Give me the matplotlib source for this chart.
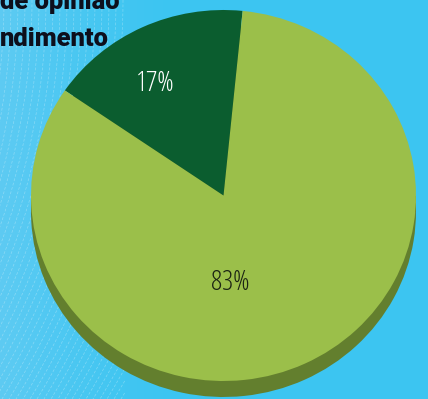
import numpy as np
import matplotlib.pyplot as plt
from matplotlib import font_manager

# dados do gráfico
categorias = ['Insatisfeito', 'Satisfeito']
valores = [17, 83]
cores = ['#0b5d2f', '#9bbf4a']
cores_lado = ['#073d1f', '#637f2e']
cor_texto = ['#ffffff', '#1c2414']
titulo = ['de opinião', 'ndimento']


def achar_fonte(preferidas):
    # procura uma família estreita instalada
    for nome in preferidas:
        for f in font_manager.fontManager.ttflist:
            if f.name == nome and f.stretch in ('condensed', 'semi-condensed', 'extra-condensed', 75, 87.5):
                return nome, 'condensed'
    return None, 'normal'


fonte, est = achar_fonte(['Roboto', 'Open Sans', 'Noto Sans', 'DejaVu Sans'])
if fonte is None:
    fonte = 'Roboto'
tam_rot = 20 if est == 'condensed' else 15

W, H = 428, 399
fig = plt.figure(figsize=(W / 100, H / 100), dpi=100)
fig.patch.set_facecolor('#3cc5f1')

# fundo com degradê e linhas tracejadas
bg = fig.add_axes([0, 0, 1, 1])
bg.set_xlim(0, W)
bg.set_ylim(H, 0)
bg.axis('off')
grad = np.linspace(1, 0, 256) ** 1.5
grad = np.tile(grad, (10, 1))
c1 = np.array([0x5e, 0xcb, 0xf3]) / 255
c0 = np.array([0x3c, 0xc5, 0xf1]) / 255
img = c0 + grad[..., None] * (c1 - c0)
bg.imshow(img, extent=[0, 180, H, 0], aspect='auto', zorder=0)
bg.imshow(np.tile(c0, (1, 1, 1)), extent=[180, W, H, 0], aspect='auto', zorder=0)
yy = np.linspace(0, H, 200)
for c in range(-10, 260, 7):
    xx = c - 0.00076 * yy ** 2
    xx = np.where(xx < 125, xx, np.nan)
    bg.plot(xx, yy, color='white', lw=0.5, alpha=0.3, ls=(0, (4, 2.5)), zorder=1)

# escolhe a fonte mais estreita para o título
r = fig.canvas.get_renderer()
melhor = None
for fam in ['Roboto', 'Open Sans', 'Noto Sans', 'DejaVu Sans', 'Lato', 'Inter', 'Liberation Sans']:
    for st in ['extra-condensed', 'condensed', 'normal']:
        t = bg.text(0, 100, titulo[1], fontsize=20, fontweight='heavy', family=fam, fontstretch=st)
        w = t.get_window_extent(renderer=r).width
        t.remove()
        if melhor is None or w < melhor[0]:
            melhor = (w, fam, st)
larg, fam_tit, st_tit = melhor
# meio-termo entre largura e altura das letras
tam_tit = 20 * (0.5 + 0.5 * 100 / larg)

for y, txt in zip([9.5, 46], titulo):
    bg.text(0, y, txt, fontsize=tam_tit, fontweight='heavy', family=fam_tit,
            fontstretch=st_tit, color='#0d0f1c', va='baseline', ha='left', zorder=3)

# pizza com efeito 3D
ax = fig.add_axes([0, 0, 1, 1])
ax.patch.set_alpha(0)
cx, cy, rx, ry = 223.5, 195.5, 192.5, 185.5
prof = 16 / ry
inicio = 84.3

ax.pie(valores, colors=cores_lado, startangle=inicio, center=(0, -prof),
       wedgeprops=dict(linewidth=0), frame=True)
ax.fill_between([-1, 1], -prof, 0, color=cores_lado[1], lw=0)
ax.pie(valores, colors=cores, startangle=inicio, center=(0, 0),
       wedgeprops=dict(linewidth=0), frame=True)

ax.set_aspect('auto')
ax.set_xlim(-cx / rx, (W - cx) / rx)
ax.set_ylim(-(H - cy) / ry, cy / ry)
ax.axis('off')

# rótulos de porcentagem
pos = [(-0.356, 0.601), (0.034, -0.474)]
for v, (x, y), c in zip(valores, pos, cor_texto):
    ax.text(x, y, f'{v}%', fontsize=tam_rot, family=fonte, fontweight='light',
            fontstretch=est, color=c, ha='center', va='center')

fig.savefig('out.png', dpi=100, facecolor=fig.get_facecolor())
